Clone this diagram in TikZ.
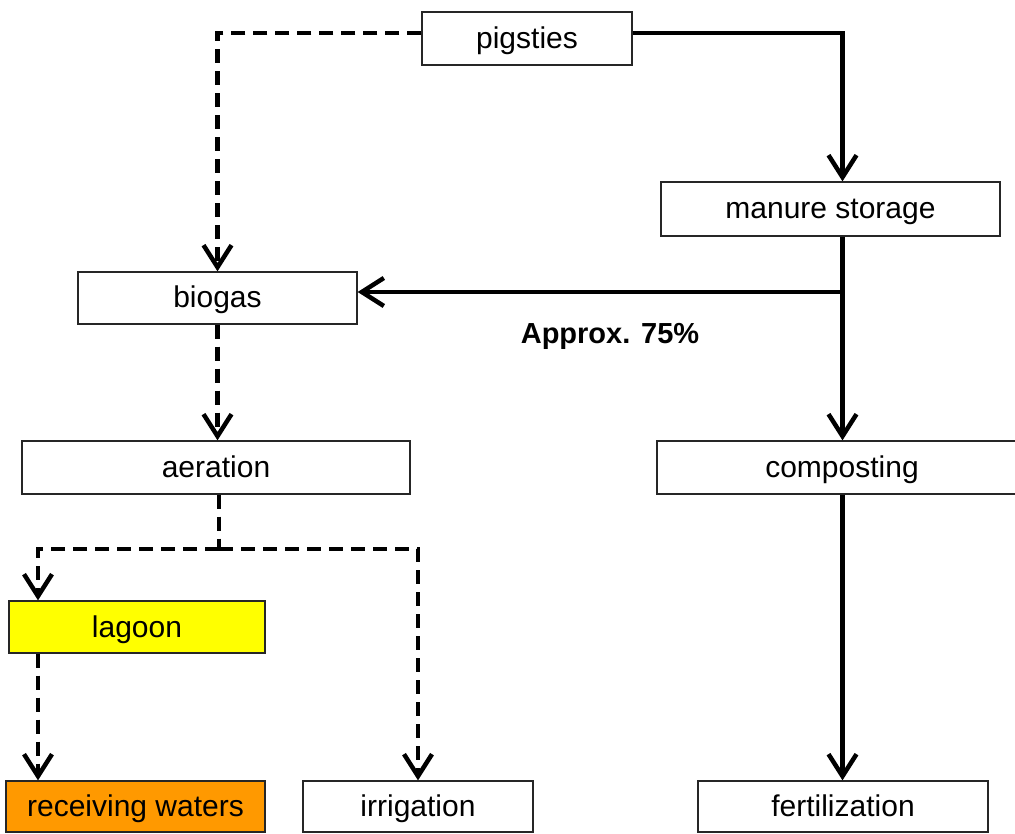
\documentclass[tikz,border=0pt]{standalone}
\usepackage{fontspec}
\setmainfont{Liberation Sans}
\usetikzlibrary{arrows.meta}
\definecolor{lagoonyellow}{HTML}{FFFF00}
\definecolor{waterorange}{HTML}{FF9900}
\tikzset{
  boxnode/.style={draw=black!85, line width=1.3pt, rectangle, inner sep=0pt,
    text height=26pt, text depth=6pt, font=\fontsize{30}{36}\selectfont},
  barbtip/.style={-{Straight Barb[length=22pt,width=28pt]}},
  solidflow/.style={line width=4.5pt, barbtip},
  solidline/.style={line width=4.5pt},
  dashflow/.style={line width=4.5pt, dash pattern=on 14pt off 8pt, barbtip},
  dashline/.style={line width=4.5pt, dash pattern=on 14pt off 8pt},
}
\begin{document}
\begin{tikzpicture}[x=1pt,y=-1pt]
\useasboundingbox (0,0) rectangle (1015,834);
\fill[white] (0,0) rectangle (1015,834);
% boxes
\node[boxnode, minimum width=210pt, minimum height=53pt] (pig) at (527,38.5) {pigsties};
\node[boxnode, minimum width=339pt, minimum height=54pt] (manure) at (830.5,209) {manure storage};
\node[boxnode, minimum width=279pt, minimum height=52pt] (biogas) at (217.5,298) {biogas};
\node[boxnode, minimum width=388pt, minimum height=53pt] (aeration) at (216,467.5) {aeration};
\node[boxnode, minimum width=370pt, minimum height=53pt] (compost) at (842,467.5) {composting};
\node[boxnode, fill=lagoonyellow, minimum width=256pt, minimum height=52pt] (lagoon) at (137,627) {lagoon};
\node[boxnode, fill=waterorange, minimum width=259pt, minimum height=51pt] (recv) at (135.5,806.5) {receiving waters};
\node[boxnode, minimum width=230pt, minimum height=51pt] (irrig) at (418,806.5) {irrigation};
\node[boxnode, minimum width=290pt, minimum height=51pt] (fert) at (843,806.5) {fertilization};
\node[font=\fontsize{29}{34}\selectfont\bfseries, inner sep=0pt] (lbl) at (610,336) {Approx. 75\%};
% helper coordinates
\coordinate (colR) at (842.5,0);
\coordinate (colL) at (38,0);
\coordinate (junc) at (842.5,292);
\coordinate (split) at (219,549);
% solid connectors
\draw[solidflow] ([yshift=5.5pt]pig.east) -| (manure.north -| colR);
\draw[solidline] (manure.south -| colR) -- (junc);
\draw[solidflow] (junc) -- (compost.north -| colR);
\draw[solidflow] (junc) -- (biogas.east |- junc);
\draw[solidflow] (compost.south -| colR) -- (fert.north -| colR);
% dashed connectors
\draw[dashflow] ([yshift=5.5pt]pig.west) -| (biogas.north);
\draw[dashflow] (biogas.south) -- (biogas.south |- aeration.north);
\draw[dashline] (aeration.south -| split) -- (split);
\draw[dashflow] (split) -| (lagoon.north -| colL);
\draw[dashflow] (split) -| (irrig.north);
\draw[dashflow] (lagoon.south -| colL) -- (recv.north -| colL);
\end{tikzpicture}
\end{document}
